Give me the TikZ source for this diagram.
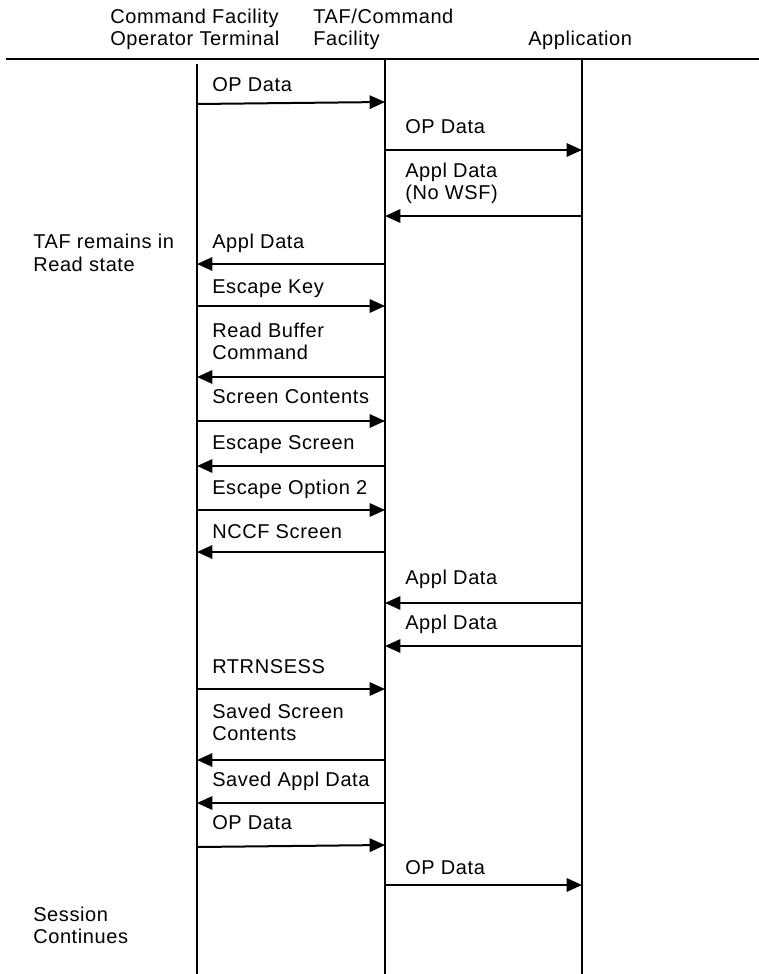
\documentclass[tikz,border=0pt]{standalone}
\usepackage{fontspec}
\setmainfont[LetterSpace=3]{Liberation Sans}
\usetikzlibrary{arrows.meta}
\begin{document}
\begin{tikzpicture}[x=0.75pt,y=-0.75pt,
  lbl/.style={anchor=base west, inner sep=0pt, font=\fontsize{15}{18}\selectfont},
  msg/.style={line width=1.5pt, -{Triangle[length=11.5pt,width=10pt]}},
  life/.style={line width=1.5pt},
  topline/.style={line width=2.2pt}
]
\useasboundingbox (0,0) rectangle (759,974);

% header
\node[lbl] (h1a) at (110,24) {Command Facility};
\node[lbl] (h1b) at (110,46) {Operator Terminal};
\node[lbl] (h2a) at (313,24) {TAF/Command};
\node[lbl] (h2b) at (313,46) {Facility};
\node[lbl] (h3)  at (528,46) {Application};

\coordinate (tl0) at (6,59);
\coordinate (tl1) at (759,59);
\draw[topline] (tl0) -- (tl1);

% lifelines
\coordinate (A0) at (197,64);  \coordinate (A1) at (197,974);
\coordinate (B0) at (385,60);  \coordinate (B1) at (385,974);
\coordinate (C0) at (582,60);  \coordinate (C1) at (582,974);
\draw[life] (A0) -- (A1);
\draw[life] (B0) -- (B1);
\draw[life] (C0) -- (C1);

% messages
\foreach \n/\xs/\ys/\xe/\ye in {
  1/197/104/385/102,
  2/385/150/582/150,
  3/582/216/385/216,
  4/385/264/197/264,
  5/197/306/385/306,
  6/385/377/197/377,
  7/197/421/385/421,
  8/385/466/197/466,
  9/197/510/385/510,
  10/385/552/197/552,
  11/582/603/385/603,
  12/582/646/385/646,
  13/197/689/385/689,
  14/385/760/197/760,
  15/385/803/197/803,
  16/197/847/385/845,
  17/385/885/582/885}{
  \coordinate (s\n) at (\xs,\ys);
  \coordinate (e\n) at (\xe,\ye);
  \draw[msg] (s\n) -- (e\n);
}

% labels
\node[lbl] (l1)  at (212,91)  {OP Data};
\node[lbl] (l2)  at (405,133) {OP Data};
\node[lbl] (l3a) at (405,177) {Appl Data};
\node[lbl] (l3b) at (405,199) {(No WSF)};
\node[lbl] (l4)  at (212,248) {Appl Data};
\node[lbl] (l5)  at (212,293) {Escape Key};
\node[lbl] (l6a) at (212,337) {Read Buffer};
\node[lbl] (l6b) at (212,359) {Command};
\node[lbl] (l7)  at (212,403) {Screen Contents};
\node[lbl] (l8)  at (212,449) {Escape Screen};
\node[lbl] (l9)  at (212,494) {Escape Option 2};
\node[lbl] (l10) at (212,538) {NCCF Screen};
\node[lbl] (l11) at (405,584) {Appl Data};
\node[lbl] (l12) at (405,629) {Appl Data};
\node[lbl] (l13) at (212,673) {RTRNSESS};
\node[lbl] (l14a) at (212,718) {Saved Screen};
\node[lbl] (l14b) at (212,740) {Contents};
\node[lbl] (l15) at (212,786) {Saved Appl Data};
\node[lbl] (l16) at (212,829) {OP Data};
\node[lbl] (l17) at (405,874) {OP Data};

% side notes
\node[lbl] (n1a) at (33,248) {TAF remains in};
\node[lbl] (n1b) at (33,271) {Read state};
\node[lbl] (n2a) at (33,921) {Session};
\node[lbl] (n2b) at (33,943) {Continues};
\end{tikzpicture}
\end{document}
